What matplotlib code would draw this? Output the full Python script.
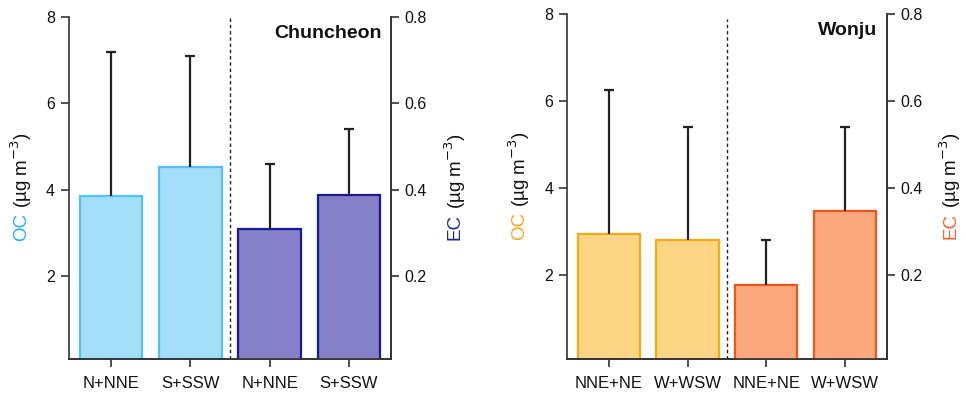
import matplotlib
matplotlib.use('Agg')
import matplotlib.pyplot as plt

plt.rcParams['font.family'] = ['Liberation Sans', 'DejaVu Sans']

# Chuncheon
chun_labels = ['N+NNE', 'S+SSW', 'N+NNE', 'S+SSW']
chun_oc = [3.86, 4.52]
chun_oc_sd = [3.32, 2.57]
chun_ec = [0.308, 0.387]
chun_ec_sd = [0.152, 0.153]

# Wonju
won_labels = ['NNE+NE', 'W+WSW', 'NNE+NE', 'W+WSW']
won_oc = [2.94, 2.81]
won_oc_sd = [3.32, 2.59]
won_ec = [0.177, 0.347]
won_ec_sd = [0.103, 0.193]

AXC = '#333333'


def upper_err(ax, x, y, sd):
    # only the upper whisker + cap, like the original
    _, caps, _ = ax.errorbar(x, y, yerr=[[0] * len(y), sd], fmt='none', ecolor='#222222',
                             elinewidth=1.6, capsize=3.5, capthick=1.6, zorder=3)
    caps[0].set_visible(False)


def panel(rect, title, labels, oc, oc_sd, ec, ec_sd, oc_col, ec_col, dash_top):
    ax = fig.add_axes(rect)
    ax2 = ax.twinx()
    x_oc = [0, 1]
    x_ec = [2, 3]
    ax.bar(x_oc, oc, width=0.79, color=oc_col[0], edgecolor=oc_col[1], linewidth=1.6, zorder=2)
    upper_err(ax, x_oc, oc, oc_sd)
    ax2.bar(x_ec, ec, width=0.79, color=ec_col[0], edgecolor=ec_col[1], linewidth=1.6, zorder=2)
    upper_err(ax2, x_ec, ec, ec_sd)

    ax.set_xlim(-0.53, 3.53)
    ax.set_ylim(0.075, 8)
    ax2.set_ylim(0.0075, 0.8)
    ax.set_yticks([2, 4, 6, 8])
    ax2.set_yticks([0.2, 0.4, 0.6, 0.8])
    ax.set_xticks(range(4))
    ax.set_xticklabels(labels)
    ax.axvline(1.5, ymax=dash_top, color='#222222', lw=1, ls=(0, (2.5, 2)), zorder=1)

    for a in (ax, ax2):
        a.spines['top'].set_visible(False)
        for s in a.spines.values():
            s.set_color(AXC)
            s.set_linewidth(1.2)
        a.tick_params(direction='out', length=6, width=1.2, color=AXC,
                      labelsize=11.5, labelcolor='#111111', pad=4)
    ax2.spines['left'].set_visible(False)
    ax.tick_params(axis='x', pad=6, labelsize=12)

    ax.text(0.97, 0.952, title, transform=ax.transAxes, ha='right', va='center',
            fontsize=14, fontweight='bold', color='#111111')

    # left ylabel: coloured OC + black unit
    t1 = ax.text(-0.148, 0.385, 'OC', transform=ax.transAxes, rotation=90,
                 ha='center', va='center', fontsize=13.5, color=oc_col[2])
    ax.annotate(' (µg m$^{-3}$)', xy=(0.5, 1), xycoords=t1, rotation=90,
                ha='center', va='bottom', fontsize=13.5, color='#111111')
    # right ylabel
    t2 = ax.text(1.2, 0.385, 'EC', transform=ax.transAxes, rotation=90,
                 ha='center', va='center', fontsize=13.5, color=ec_col[2])
    ax.annotate(' (µg m$^{-3}$)', xy=(0.5, 1), xycoords=t2, rotation=90,
                ha='center', va='bottom', fontsize=13.5, color='#111111')
    return ax


fig = plt.figure(figsize=(9.66, 3.94), dpi=100)

panel([0.0714, 0.0888, 0.3333, 0.868], 'Chuncheon', chun_labels,
      chun_oc, chun_oc_sd, chun_ec, chun_ec_sd,
      ('#a3defa', '#52c2f2', '#29aee8'), ('#8580c8', '#1a1a96', '#1c2a86'), 1.0)

panel([0.587, 0.0888, 0.331, 0.876], 'Wonju', won_labels,
      won_oc, won_oc_sd, won_ec, won_ec_sd,
      ('#fdd584', '#f5aa14', '#f5a81c'), ('#fca87f', '#f0561a', '#f26424'), 0.985)

fig.savefig('out.png', dpi=100, facecolor='white')
